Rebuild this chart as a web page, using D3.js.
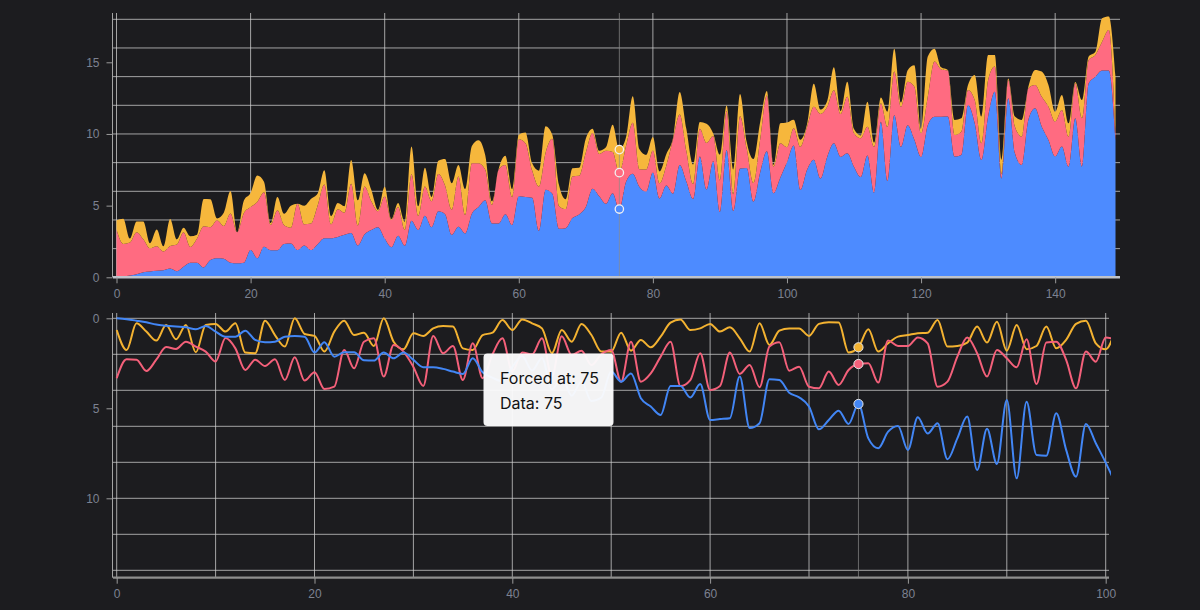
<!DOCTYPE html>
<html><head><meta charset="utf-8">
<script src="https://cdn.jsdelivr.net/npm/d3@7"></script>
<style>
html,body{margin:0;padding:0;background:#1c1c1f;}
svg{display:block;font-family:Inter,"Noto Sans",sans-serif;}
</style></head>
<body><svg id="c" width="1200" height="610"></svg>
<script>
// ---- data (index = x value) ----
const blue = [0.0,0.05,0.13,0.22,0.35,0.41,0.46,0.5,0.61,0.43,0.74,1.02,1.02,0.69,1.2,1.33,1.3,1.02,0.98,1.02,
1.9,1.33,2.13,1.89,1.89,2.33,2.35,1.9,2.22,1.9,2.31,2.72,2.72,2.81,2.96,3.09,2.22,3.0,3.3,3.5,
2.7,2.1,2.9,2.2,3.95,3.3,4.3,3.5,4.6,4.4,2.96,3.52,3.06,4.44,4.9,5.37,3.76,3.76,4.4,3.65,
5.65,5.6,5.55,3.24,6.1,5.83,3.39,3.43,4.13,4.39,4.9,6.17,5.65,5.13,5.87,4.76,6.67,7.22,6.3,5.98,
7.31,5.5,6.4,5.83,7.83,6.67,5.46,8.43,6.13,8.09,4.54,8.89,4.63,7.59,7.63,5.28,7.31,8.8,5.87,6.94,
8.02,9.2,6.1,7.5,8.2,6.9,8.4,9.35,8.4,8.65,7.7,7.0,8.5,5.9,10.85,6.7,11.3,9.1,10.6,9.6,
8.4,10.6,11.2,11.2,11.21,8.42,8.53,12.02,10.74,8.19,11.21,12.95,6.9,12.49,8.65,7.84,10.98,11.79,10.51,9.58,
8.42,9.12,7.72,11.09,7.72,13.53,14.0,14.42,14.42,9.58];
const pink = [3.33,2.28,2.3,2.93,2.3,1.6,1.7,1.3,1.57,1.85,2.4,1.1,1.67,2.87,2.3,2.65,2.28,3.43,2.17,3.46,
3.0,3.93,3.8,1.76,2.78,1.3,1.11,3.24,1.48,1.85,2.7,3.76,0.98,1.94,1.54,3.43,1.39,3.33,2.0,1.11,
2.96,1.9,2.0,1.11,3.24,1.0,2.04,1.8,2.6,2.0,1.76,3.52,1.3,3.52,3.06,2.13,1.3,3.76,3.43,1.94,
3.98,3.76,1.9,3.09,2.59,3.83,1.57,1.33,2.91,2.69,3.8,3.89,2.96,3.7,2.87,2.54,2.5,3.57,1.24,1.54,
1.54,1.06,1.39,3.8,3.52,2.13,1.06,1.94,3.24,1.76,2.22,2.72,1.17,3.65,1.35,1.3,2.31,3.89,1.85,2.41,
1.06,1.2,3.0,3.0,3.7,4.5,3.5,3.7,3.0,3.95,2.35,2.7,2.0,3.2,1.3,3.8,3.05,2.8,3.05,3.7,
1.65,2.0,3.85,3.3,3.21,1.51,1.63,1.05,1.63,1.16,2.56,1.75,0.3,1.28,1.86,1.97,2.21,1.63,2.09,2.32,
2.44,2.55,2.09,2.44,3.37,1.63,1.51,2.02,2.84,0.47];
const yellow = [0.65,1.76,0.28,0.74,1.24,0.37,1.17,0.37,1.89,0.37,0.31,0.74,0.28,1.9,1.94,0.13,0.93,1.57,0.0,0.87,
0.98,1.85,0.74,0.13,0.93,0.8,1.54,0.0,1.3,1.72,0.83,0.98,0.56,0.43,0.46,1.67,1.76,0.93,0.8,0.09,
0.65,0.06,0.28,0.56,1.94,0.65,1.3,0.31,0.93,1.85,1.85,0.8,1.8,1.2,1.61,1.02,0.24,0.06,0.65,0.56,
0.31,0.74,0.5,1.11,1.85,0.28,1.48,0.69,0.56,0.56,0.98,0.31,0.22,0.24,1.9,1.61,0.61,1.85,1.39,1.02,
0.93,0.83,0.8,0.09,1.57,1.54,1.35,0.46,1.35,0.19,1.8,0.37,1.72,1.54,0.46,1.67,1.2,0.31,0.13,1.39,
1.72,0.6,0.5,0.2,1.6,0.3,0.4,1.6,0.2,1.05,0.3,0.2,1.75,0.3,0.4,1.05,1.6,0.3,0.8,1.5,
0.3,2.8,0.9,0.15,0.05,1.05,0.93,0.35,1.75,1.86,1.74,0.81,1.0,0.1,0.7,1.17,0.1,1.05,1.75,1.52,
0.7,1.05,0.93,0.1,1.28,0.24,0.23,1.63,0.93,3.95];
const seriesNames = ["blue","pink","yellow"];
const areaColors = ["#4d8bff","#ff6b81","#f6b73c"];
const lineColors = ["#4286f5","#f4607a","#f3b231"];
const topXTicks = [0,20,40,60,80,100,120,140];
const topYTicks = [0,5,10,15];
const topGridY = [0,2,4,6,8,10,12,14,16,18];
const botXTicks = [0,20,40,60,80,100];
const botGridX = [0,10,20,30,40,50,60,70,80,90,100];
const botYTicks = [0,5,10];
const botGridY = [0,2,4,6,8,10,12,14];
const forcedAt = 75;
const botCount = 102;

const svg = d3.select("#c");
const gridCol = "#d2d2d2";
const labelCol = "#7c8291";

// ---------- TOP: stacked area ----------
const xT = d3.scaleLinear().domain([0,149]).range([116.5,1115.5]);
const yT = d3.scaleLinear().domain([0,18]).range([277.3,19.3]);
const topTop = 13, topBottom = 277.3;

const gT = svg.append("g");
gT.selectAll(".hg").data(topGridY).join("line")
  .attr("x1",113).attr("x2",1120).attr("y1",d=>yT(d)).attr("y2",d=>yT(d))
  .attr("stroke",gridCol).attr("stroke-opacity",0.75);
gT.selectAll(".vg").data(topXTicks).join("line")
  .attr("x1",d=>xT(d)).attr("x2",d=>xT(d)).attr("y1",topTop).attr("y2",topBottom)
  .attr("stroke",gridCol).attr("stroke-opacity",0.75);
gT.append("line").attr("x1",112.5).attr("x2",112.5).attr("y1",topTop).attr("y2",topBottom)
  .attr("stroke",gridCol).attr("stroke-opacity",0.75);

const rows = blue.map((b,i)=>({x:i, blue:b, pink:pink[i], yellow:yellow[i]}));
const stack = d3.stack().keys(seriesNames)(rows);
const area = d3.area().curve(d3.curveMonotoneX)
  .x(d=>xT(d.data.x)).y0(d=>yT(d[0])).y1(d=>yT(d[1]));
gT.selectAll(".ar").data(stack).join("path")
  .attr("d",area).attr("fill",(d,i)=>areaColors[i]);

gT.append("line").attr("x1",xT(forcedAt)).attr("x2",xT(forcedAt)).attr("y1",topTop).attr("y2",topBottom)
  .attr("stroke","#8a8a8a").attr("stroke-opacity",0.7);
gT.selectAll(".mk").data(stack).join("circle")
  .attr("cx",xT(forcedAt)).attr("cy",d=>yT(d[forcedAt][1])).attr("r",4.2)
  .attr("fill",(d,i)=>areaColors[i]).attr("stroke","#f2f2f2").attr("stroke-width",1.3);

const axT = gT.append("g").attr("transform",`translate(0,${topBottom})`)
  .call(d3.axisBottom(xT).tickValues(topXTicks).tickSize(6).tickSizeOuter(0));
axT.select(".domain").attr("d",`M113,0H1120`).attr("stroke","#bfc3cb").attr("stroke-width",2.5);
axT.selectAll(".tick line").attr("stroke","#9a9a9a");
axT.selectAll(".tick text").attr("fill",labelCol).attr("font-size",12).attr("dy","0.95em");
const ayT = gT.append("g").attr("transform","translate(112.5,0)")
  .call(d3.axisLeft(yT).tickValues(topYTicks).tickSize(6).tickSizeOuter(0));
ayT.select(".domain").remove();
ayT.selectAll(".tick line").attr("stroke","#9a9a9a");
ayT.selectAll(".tick text").attr("fill",labelCol).attr("font-size",12).attr("dx","-4");

// ---------- BOTTOM: lines, inverted y ----------
const xB = d3.scaleLinear().domain([0,100]).range([116.7,1105.7]);
const yB = d3.scaleLinear().domain([0,14]).range([318.3,570.3]);
const bTop = 313, bBottom = 577.7;
const gB = svg.append("g");
gB.selectAll(".hg").data(botGridY).join("line")
  .attr("x1",113).attr("x2",1109).attr("y1",d=>yB(d)).attr("y2",d=>yB(d))
  .attr("stroke",gridCol).attr("stroke-opacity",0.75);
gB.selectAll(".vg").data(botGridX).join("line")
  .attr("x1",d=>xB(d)).attr("x2",d=>xB(d)).attr("y1",bTop).attr("y2",bBottom)
  .attr("stroke",gridCol).attr("stroke-opacity",0.75);
gB.append("line").attr("x1",112.5).attr("x2",112.5).attr("y1",bTop).attr("y2",bBottom)
  .attr("stroke",gridCol).attr("stroke-opacity",0.75);

svg.append("defs").append("clipPath").attr("id","clipB")
  .append("rect").attr("x",112).attr("y",bTop).attr("width",1111-112).attr("height",bBottom-bTop);

const seriesArr = [blue,pink,yellow];
const line = d3.line().curve(d3.curveMonotoneX).x((d,i)=>xB(i)).y(d=>yB(d));
const gl = gB.append("g").attr("clip-path","url(#clipB)");
[2,1,0].forEach(k=>{
  gl.append("path").attr("d",line(seriesArr[k].slice(0,botCount)))
    .attr("fill","none").attr("stroke",lineColors[k]).attr("stroke-width",2);
});
gB.append("line").attr("x1",xB(forcedAt)).attr("x2",xB(forcedAt)).attr("y1",bTop).attr("y2",bBottom)
  .attr("stroke","#8a8a8a").attr("stroke-opacity",0.7);
seriesArr.forEach((s,k)=>{
  gB.append("circle").attr("cx",xB(forcedAt)).attr("cy",yB(s[forcedAt])).attr("r",4.6)
    .attr("fill",lineColors[k]).attr("stroke","#e6e6e6").attr("stroke-width",1);
});

const axB = gB.append("g").attr("transform",`translate(0,${bBottom})`)
  .call(d3.axisBottom(xB).tickValues(botXTicks).tickSize(6).tickSizeOuter(0));
axB.select(".domain").attr("d",`M113,0H1109`).attr("stroke","#8e8e8e").attr("stroke-width",2.2);
axB.selectAll(".tick line").attr("stroke","#9a9a9a");
axB.selectAll(".tick text").attr("fill",labelCol).attr("font-size",12).attr("dy","0.95em");
const ayB = gB.append("g").attr("transform","translate(112.5,0)")
  .call(d3.axisLeft(yB).tickValues(botYTicks).tickSize(6).tickSizeOuter(0));
ayB.select(".domain").remove();
ayB.selectAll(".tick line").attr("stroke","#9a9a9a");
ayB.selectAll(".tick text").attr("fill",labelCol).attr("font-size",12).attr("dx","-4");

// tooltip
const tt = svg.append("g").attr("transform","translate(483.5,353.5)");
tt.append("rect").attr("width",130).attr("height",72.5).attr("rx",4)
  .attr("fill","#fbfbfc").attr("fill-opacity",0.965);
tt.append("text").attr("x",16.5).attr("y",30).attr("font-size",16).attr("fill","#111").text("Forced at: " + forcedAt);
tt.append("text").attr("x",16.5).attr("y",55.5).attr("font-size",16).attr("fill","#111").text("Data: " + forcedAt);
</script></body></html>
